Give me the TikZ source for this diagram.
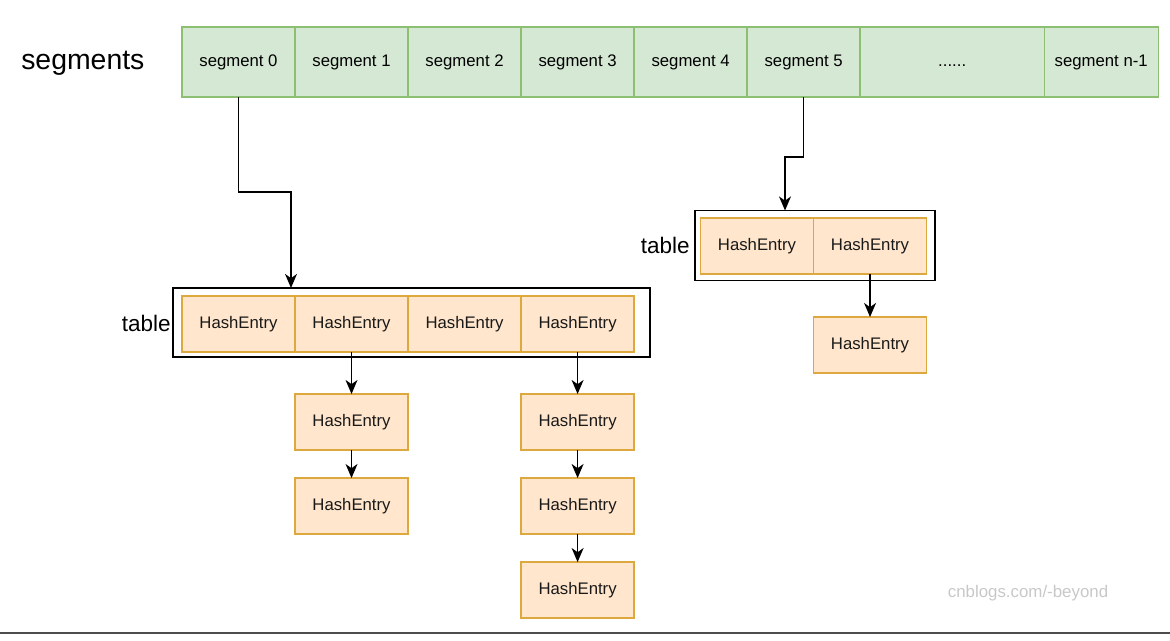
\documentclass[tikz,border=0pt]{standalone}
\usepackage{fontspec}
\setmainfont{Liberation Sans}
\usetikzlibrary{positioning, arrows.meta}
\definecolor{segfill}{HTML}{D5E8D4}
\definecolor{segline}{HTML}{8CBF72}
\definecolor{entfill}{HTML}{FFE6CC}
\definecolor{entline}{HTML}{DDA93E}
\definecolor{markgray}{HTML}{C8C8C8}

\begin{document}
\begin{tikzpicture}[x=0.025cm, y=-0.025cm,
  seg/.style={draw=segline, fill=segfill, line width=1pt, minimum width=2.825cm, minimum height=1.75cm, inner sep=0pt, outer sep=0pt, font=\fontsize{11.9}{14}\selectfont},
  entry/.style={draw=entline, fill=entfill, line width=1pt, minimum width=2.825cm, minimum height=1.4cm, inner sep=0pt, outer sep=0pt, text=black!90, font=\fontsize{11.9}{14}\selectfont},
  frame/.style={draw=black, line width=1pt, inner sep=0pt, outer sep=0pt},
  lbl/.style={inner sep=0pt, font=\fontsize{16}{18}\selectfont},
  link/.style={-{Stealth[length=10pt,width=8.5pt,inset=3pt]}, line width=1pt}]
\useasboundingbox (0,0) rectangle (1170,640);

% segments row
\node[lbl, anchor=west, font=\fontsize{20.2}{22}\selectfont] (segs) at (21,63) {segments};
\node[seg] (seg0) at (238.5,62) {segment 0};
\node[seg, right=0pt of seg0] (seg1) {segment 1};
\node[seg, right=0pt of seg1] (seg2) {segment 2};
\node[seg, right=0pt of seg2] (seg3) {segment 3};
\node[seg, right=0pt of seg3] (seg4) {segment 4};
\node[seg, right=0pt of seg4] (seg5) {segment 5};
\node[seg, right=0pt of seg5, minimum width=4.6cm] (segdots) {......\vphantom{segment 0}};
\node[seg, right=0pt of segdots, minimum width=2.85cm] (segn) {segment n-1};

% table of segment 0
\node[frame, minimum width=11.925cm, minimum height=1.725cm] (tbl0) at (411.5,322.5) {};
\node[lbl, anchor=east] (tlbl0) at (171,323) {table};
\node[entry] (e1) at (238.5,324) {HashEntry};
\node[entry, right=0pt of e1] (e2) {HashEntry};
\node[entry, right=0pt of e2] (e3) {HashEntry};
\node[entry, right=0pt of e3] (e4) {HashEntry};

\node[entry, below=1.05cm of e2] (a1) {HashEntry};
\node[entry, below=0.7cm of a1] (a2) {HashEntry};
\node[entry, below=1.05cm of e4] (b1) {HashEntry};
\node[entry, below=0.7cm of b1] (b2) {HashEntry};
\node[entry, below=0.7cm of b2] (b3) {HashEntry};

% table of segment 5
\node[frame, minimum width=6cm, minimum height=1.75cm] (tbl5) at (815,245.5) {};
\node[lbl, anchor=east] (tlbl5) at (690,245) {table};
\node[entry] (r1) at (757,246) {HashEntry};
\node[entry, right=0pt of r1] (r2) {HashEntry};
\node[entry, below=1.075cm of r2] (r3) {HashEntry};

% connectors
\coordinate (k0) at (291,192);
\coordinate (k5) at (785,157);
\draw[link] (seg0.south) |- (k0) -- (k0 |- tbl0.north);
\draw[link] (seg5.south) |- (k5) -- (k5 |- tbl5.north);
\draw[link] (e2.south) -- (a1.north);
\draw[link] (a1.south) -- (a2.north);
\draw[link] (e4.south) -- (b1.north);
\draw[link] (b1.south) -- (b2.north);
\draw[link] (b2.south) -- (b3.north);
\draw[link] (r2.south) -- (r3.north);

\node[text=markgray, font=\fontsize{12}{14}\selectfont] (mark) at (1028,593) {cnblogs.com/-beyond};
\draw[line width=1.4pt, color=black!70] (0,633) -- (1170,633);
\end{tikzpicture}
\end{document}
